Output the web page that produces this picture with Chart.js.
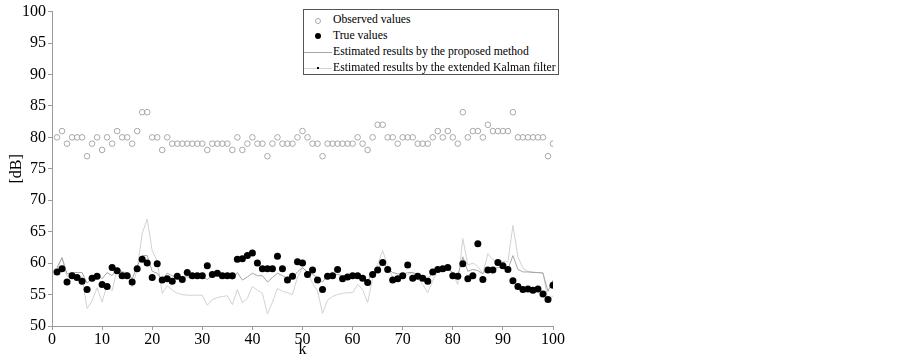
<!DOCTYPE html>
<html>
<head>
<meta charset="utf-8">
<script src="https://cdn.jsdelivr.net/npm/chart.js@4.4.1/dist/chart.umd.min.js"></script>
<style>
    html, body { margin: 0; padding: 0; background: #fff; }
    #wrap { position: relative; width: 903px; height: 359px; }
    #legend {
        position: absolute; left: 303px; top: 9px; width: 256px; height: 66px;
        border: 1px solid #555; background: #fff; box-sizing: border-box;
        font-family: 'Liberation Serif', serif; font-size: 11.7px; color: #000;
    }
    .row { position: absolute; left: 0; height: 16px; width: 100%; }
    .row span.txt { position: absolute; left: 29px; top: 0; line-height: 16px; white-space: nowrap; }
    .mk { position: absolute; }
</style>
</head>
<body>
<div id="wrap">
    <canvas id="chart" width="903" height="359"></canvas>
    <div id="legend">
        <div class="row" style="top:2px">
            <div class="mk" style="left:11px;top:6px;width:4px;height:4px;border:1px solid #aaa;border-radius:50%"></div>
            <span class="txt">Observed values</span>
        </div>
        <div class="row" style="top:18px">
            <div class="mk" style="left:11px;top:5px;width:6px;height:6px;background:#000;border-radius:50%"></div>
            <span class="txt">True values</span>
        </div>
        <div class="row" style="top:34px">
            <div class="mk" style="left:0px;top:8px;width:28px;height:1px;background:#a6a6a6"></div>
            <span class="txt">Estimated results by the proposed method</span>
        </div>
        <div class="row" style="top:50px">
            <div class="mk" style="left:0px;top:8px;width:28px;height:1px;background:#d2d2d2"></div>
            <div class="mk" style="left:13px;top:7px;width:2px;height:2px;background:#000"></div>
            <span class="txt">Estimated results by the extended Kalman filter</span>
        </div>
    </div>
</div>
<script>
// 관측값 (k = 1..100)
const observed = [
    80, 81, 79, 80, 80, 80, 77, 79, 80, 78,
    80, 79, 81, 80, 80, 79, 81, 84, 84, 80,
    80, 78, 80, 79, 79, 79, 79, 79, 79, 79,
    78, 79, 79, 79, 79, 78, 80, 78, 79, 80,
    79, 79, 77, 79, 80, 79, 79, 79, 80, 81,
    80, 79, 79, 77, 79, 79, 79, 79, 79, 79,
    80, 79, 78, 80, 82, 82, 80, 80, 79, 80,
    80, 80, 79, 79, 79, 80, 81, 80, 81, 80,
    79, 84, 80, 81, 81, 80, 82, 81, 81, 81,
    81, 84, 80, 80, 80, 80, 80, 80, 77, 79
];

// 실제값
const trueValues = [
    58.6, 59.1, 57.0, 58.0, 57.7, 57.1, 55.8, 57.6, 57.9, 56.6,
    56.3, 59.3, 58.8, 58.0, 58.0, 57.0, 59.1, 60.6, 60.0, 57.7,
    59.9, 57.3, 57.5, 57.1, 57.9, 57.4, 58.5, 58.0, 58.0, 58.0,
    59.6, 58.2, 58.4, 58.0, 58.0, 58.0, 60.6, 60.7, 61.2, 61.6,
    60.0, 59.1, 59.1, 59.1, 61.1, 59.1, 57.3, 57.9, 60.2, 60.0,
    58.2, 58.9, 57.3, 55.8, 57.9, 58.0, 59.0, 57.5, 57.8, 58.0,
    58.0, 57.6, 56.9, 58.2, 58.9, 60.1, 59.0, 57.3, 57.5, 58.0,
    59.7, 57.6, 57.9, 57.6, 57.1, 58.6, 59.0, 59.1, 59.3, 58.0,
    57.9, 59.9, 57.5, 58.0, 63.1, 57.4, 58.9, 58.9, 60.1, 59.6,
    59.0, 57.2, 56.3, 55.8, 55.9, 55.7, 55.9, 55.1, 54.2, 56.5
];

// 제안 방법 추정값
const proposed = [
    59.3, 60.9, 58.3, 58.5, 58.5, 58.5, 56.8, 57.6, 58.3, 57.5,
    58.5, 58.0, 59.2, 58.6, 58.5, 57.5, 59.5, 61.2, 61.2, 58.7,
    58.4, 57.3, 58.4, 58.0, 57.8, 57.8, 57.8, 57.8, 57.8, 57.8,
    57.4, 58.0, 58.0, 58.0, 58.0, 57.4, 58.5, 57.3, 57.8, 58.4,
    58.0, 58.0, 57.0, 57.7, 58.4, 58.0, 57.6, 57.6, 58.6, 59.3,
    58.5, 58.2, 57.7, 57.0, 58.0, 58.1, 58.2, 58.0, 58.0, 58.0,
    57.8, 57.5, 57.2, 58.5, 59.0, 60.2, 59.2, 58.5, 58.3, 58.2,
    58.5, 58.5, 58.2, 57.9, 57.5, 58.5, 59.0, 59.0, 59.2, 58.5,
    58.0, 61.0, 58.7, 59.0, 58.8, 58.3, 59.2, 59.0, 59.3, 59.4,
    59.0, 61.2, 59.0, 58.6, 58.6, 58.5, 58.5, 58.4, 55.5, 57.3
];

// 확장 칼만 필터 추정값
const ekf = [
    59.0, 60.8, 57.9, 57.9, 57.9, 57.8, 52.8, 54.0, 56.1, 53.8,
    56.6, 55.6, 59.0, 58.5, 58.4, 56.2, 59.0, 64.7, 67.0, 62.0,
    60.3, 55.2, 56.4, 55.7, 55.2, 55.0, 54.9, 54.9, 54.9, 54.9,
    53.3, 54.2, 54.5, 54.7, 54.8, 53.4, 55.8, 53.7, 54.4, 56.3,
    55.7, 55.2, 51.9, 53.8, 56.0, 55.5, 55.3, 55.0, 57.8, 59.2,
    58.7, 56.8, 55.6, 52.0, 54.1, 54.7, 55.0, 55.2, 55.3, 55.3,
    56.6, 55.8, 53.7, 57.6, 59.8, 62.0, 59.6, 57.8, 57.3, 57.8,
    58.2, 58.5, 57.5, 56.6, 55.3, 57.2, 58.8, 59.0, 59.0, 58.3,
    56.6, 63.9, 59.7, 60.0, 59.5, 58.3, 61.5, 60.5, 60.4, 60.3,
    60.2, 66.0, 61.0, 59.2, 58.7, 58.6, 58.5, 58.5, 54.1, 54.8
];

const FONT = "'Liberation Serif', 'Times New Roman', serif";
const AXIS_COLOR = '#9a9a9a';

// k 값과 묶어서 점 배열로 변환
function toPoints(values) {
    return values.map((v, i) => ({ x: i + 1, y: v }));
}

const ctx = document.getElementById('chart');

new Chart(ctx, {
    type: 'scatter',
    data: {
        datasets: [
            {
                label: 'True values',
                data: toPoints(trueValues),
                backgroundColor: '#000',
                borderColor: '#000',
                pointRadius: 3.5,
                pointBorderWidth: 0
            },
            {
                label: 'Observed values',
                data: toPoints(observed),
                backgroundColor: 'rgba(0,0,0,0)',
                borderColor: '#a8a8a8',
                pointRadius: 2.8,
                pointBorderWidth: 1
            },
            {
                label: 'Estimated results by the proposed method',
                data: toPoints(proposed),
                showLine: true,
                borderColor: '#a6a6a6',
                borderWidth: 1,
                pointRadius: 0,
                tension: 0
            },
            {
                label: 'Estimated results by the extended Kalman filter',
                data: toPoints(ekf),
                showLine: true,
                borderColor: '#d2d2d2',
                borderWidth: 1,
                pointRadius: 0,
                tension: 0
            }
        ]
    },
    options: {
        responsive: false,
        animation: false,
        layout: {
            padding: { left: 7, top: 8, right: 350, bottom: 0 }
        },
        plugins: {
            legend: { display: false },
            tooltip: { enabled: false }
        },
        scales: {
            x: {
                type: 'linear',
                min: 0,
                max: 100,
                ticks: {
                    stepSize: 10,
                    color: '#000',
                    font: { family: FONT, size: 16 },
                    padding: 0,
                    maxRotation: 0
                },
                grid: {
                    drawOnChartArea: false,
                    drawTicks: true,
                    tickLength: 4,
                    color: AXIS_COLOR
                },
                border: { display: true, color: AXIS_COLOR },
                title: {
                    display: true,
                    text: 'k',
                    color: '#000',
                    font: { family: FONT, size: 16 },
                    padding: { top: -4, bottom: 0 }
                },
                afterFit: (scale) => { scale.height = 33; }
            },
            y: {
                min: 50,
                max: 100,
                ticks: {
                    stepSize: 5,
                    color: '#000',
                    font: { family: FONT, size: 16 },
                    padding: 2
                },
                grid: {
                    drawOnChartArea: false,
                    drawTicks: true,
                    tickLength: 4,
                    color: AXIS_COLOR
                },
                border: { display: true, color: AXIS_COLOR },
                title: {
                    display: true,
                    text: '[dB]',
                    color: '#000',
                    font: { family: FONT, size: 16 },
                    padding: { top: 0, bottom: 0 }
                },
                afterFit: (scale) => { scale.width = 45; }
            }
        }
    }
});
</script>
</body>
</html>
